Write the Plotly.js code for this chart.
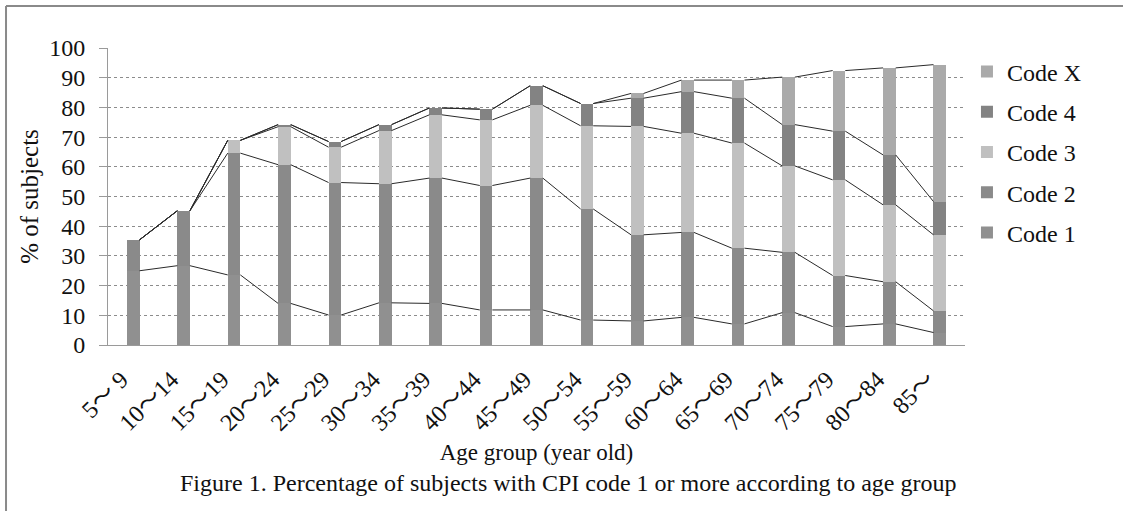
<!DOCTYPE html>
<html>
<head>
<meta charset="utf-8">
<script src="https://cdn.plot.ly/plotly-3.0.1.min.js"></script>
<style>
  html, body { margin: 0; padding: 0; background: #fff; overflow: hidden; }
  #chart { width: 1123px; height: 511px; }
</style>
</head>
<body>
<div id="chart"></div>
<script>
// Age groups (category axis)
const ageGroups = ['5～ 9', '10～14', '15～19', '20～24', '25～29', '30～34', '35～39', '40～44',
  '45～49', '50～54', '55～59', '60～64', '65～69', '70～74', '75～79', '80～84', '85～'];

// % of subjects by highest CPI code, per age group
const code1 = [25.0, 26.7, 23.6, 14.0, 10.1, 14.2, 14.0, 11.8, 11.8, 8.4, 8.1, 9.3, 7.1, 10.9, 6.2, 7.1, 4.2];
const code2 = [10.4, 18.5, 41.0, 46.7, 44.6, 40.1, 42.2, 41.9, 44.4, 37.4, 29.0, 28.6, 25.5, 20.3, 17.2, 14.2, 7.3];
const code3 = [0, 0, 4.3, 12.8, 11.9, 17.9, 21.3, 22.1, 24.5, 28.0, 36.5, 33.4, 35.4, 29.1, 32.2, 25.9, 25.6];
const code4 = [0, 0, 0, 0.7, 1.9, 2.0, 2.3, 3.6, 6.6, 7.5, 9.5, 14.0, 15.1, 13.9, 16.4, 16.8, 11.2];
const codeX = [0, 0, 0, 0, 0, 0, 0, 0, 0, 0, 1.6, 3.9, 6.1, 16.0, 20.4, 29.3, 46.1];

const seriesNames = ['Code 1', 'Code 2', 'Code 3', 'Code 4', 'Code X'];
const seriesColors = ['#909090', '#8a8a8a', '#c0c0c0', '#838383', '#aaaaaa'];

const FONT = '"Liberation Serif", "Times New Roman", "Noto Sans CJK JP", serif';
const BAR_W = 0.25;

const series = [code1, code2, code3, code4, codeX];
const xs = ageGroups.map((_, i) => i);

const traces = [];

// stacked columns; legend lists the top segment first
series.forEach((vals, k) => {
  traces.push({
    type: 'bar',
    x: xs,
    y: vals,
    width: BAR_W,
    name: seriesNames[k],
    legendgroup: seriesNames[k],
    legendrank: 100 - k,
    marker: { color: seriesColors[k], line: { width: 0 } },
    hoverinfo: 'skip'
  });
});

// series lines joining the top of each stacked segment between neighbouring columns
let running = xs.map(() => 0);
series.forEach((vals) => {
  running = running.map((v, i) => v + vals[i]);
  const lx = [], ly = [];
  for (let i = 0; i < xs.length - 1; i++) {
    lx.push(xs[i] + BAR_W / 2, xs[i + 1] - BAR_W / 2, null);
    ly.push(running[i], running[i + 1], null);
  }
  traces.push({
    type: 'scatter',
    mode: 'lines',
    x: lx,
    y: ly,
    line: { color: '#2a2a2a', width: 1 },
    showlegend: false,
    hoverinfo: 'skip',
    connectgaps: false
  });
});

const layout = {
  width: 1123,
  height: 511,
  margin: { l: 108, r: 158, t: 48, b: 166 },
  paper_bgcolor: '#ffffff',
  plot_bgcolor: '#ffffff',
  barmode: 'stack',
  font: { family: FONT, size: 23, color: '#111' },
  showlegend: true,
  legend: {
    x: 1.0023, y: 0.995, xanchor: 'left', yanchor: 'top',
    traceorder: 'grouped',
    tracegroupgap: 6,
    font: { family: FONT, size: 24, color: '#111' },
    bgcolor: 'rgba(0,0,0,0)'
  },
  xaxis: {
    type: 'linear',
    range: [-0.5, 16.5],
    tickmode: 'array',
    tickvals: xs,
    ticktext: ageGroups,
    tickangle: -45,
    tickfont: { family: FONT, size: 24, color: '#111' },
    ticklabelstandoff: 10,
    ticklabelshift: -12,
    showgrid: false,
    zeroline: false,
    showline: true,
    linecolor: '#9a9a9a',
    linewidth: 1,
    ticks: '',
    automargin: false,
    title: { text: 'Age group (year old)', font: { family: FONT, size: 23, color: '#111' }, standoff: 9 }
  },
  yaxis: {
    range: [0, 100],
    dtick: 10,
    tick0: 0,
    showgrid: true,
    gridcolor: '#8c8c8c',
    griddash: 'dot',
    gridwidth: 1,
    zeroline: false,
    showline: true,
    linecolor: '#9a9a9a',
    linewidth: 1,
    ticks: 'outside',
    ticklen: 8,
    tickcolor: '#9a9a9a',
    ticklabelstandoff: 9,
    tickfont: { family: FONT, size: 24, color: '#111' },
    automargin: false,
    title: { text: '% of subjects', font: { family: FONT, size: 25, color: '#111' }, standoff: 3 }
  },
  annotations: [{
    text: 'Figure 1. Percentage of subjects with CPI code 1 or more according to age group',
    xref: 'paper', yref: 'paper',
    x: 0.537, y: -0.465,
    xanchor: 'center', yanchor: 'middle',
    showarrow: false,
    font: { family: FONT, size: 24, color: '#111' }
  }],
  // frame around the figure: only its left and top edges fall inside the page
  shapes: [
    {
      type: 'line', xref: 'paper', yref: 'paper',
      x0: -0.1190, x1: -0.1190, y0: -0.58, y1: 1.1414,
      line: { color: '#8a8a8a', width: 2 }, layer: 'below'
    },
    {
      type: 'line', xref: 'paper', yref: 'paper',
      x0: -0.1190, x1: 1.19, y0: 1.1414, y1: 1.1414,
      line: { color: '#8a8a8a', width: 2 }, layer: 'below'
    }
  ]
};

Plotly.newPlot('chart', traces, layout, { staticPlot: true, displayModeBar: false });
</script>
</body>
</html>
